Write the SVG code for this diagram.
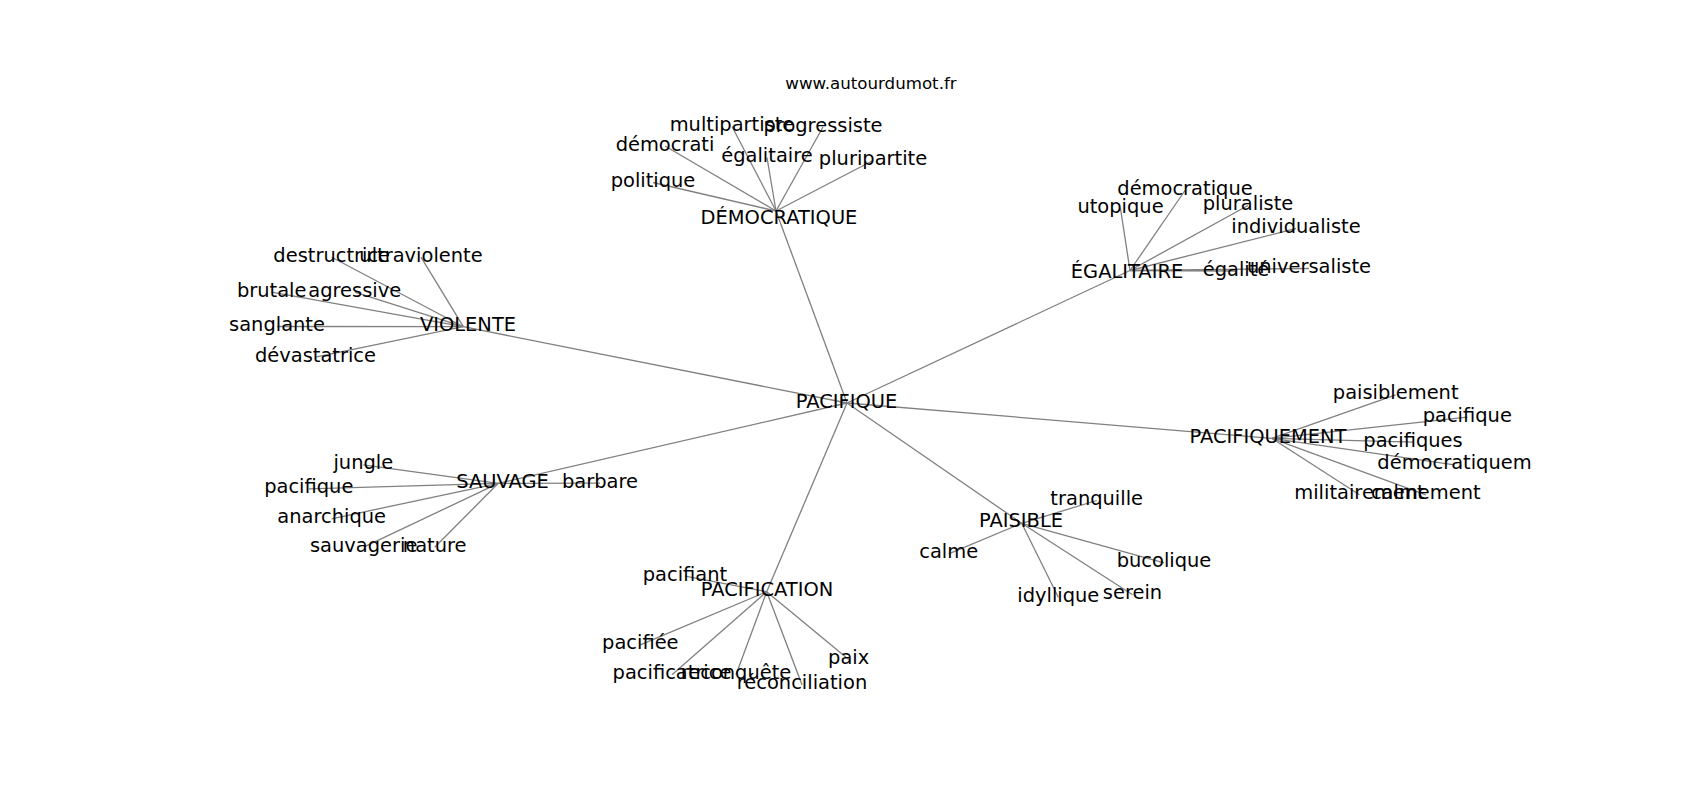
<svg xmlns="http://www.w3.org/2000/svg" width="1700" height="800" viewBox="0 0 1700 800">
<style>
.e{stroke:#808080;stroke-width:1.3;fill:none}
text{font-family:"DejaVu Sans",sans-serif;font-size:19.44px;fill:#000;text-anchor:middle}
.t{font-size:16.67px}
</style>
<rect width="1700" height="800" fill="#fff"/>
<text class="t" x="871" y="89">www.autourdumot.fr</text>
<g id="edges">
<line class="e" x1="847" y1="403" x2="776" y2="211"/>
<line class="e" x1="847" y1="403" x2="1130" y2="270.5"/>
<line class="e" x1="847" y1="403" x2="463.3" y2="326.7"/>
<line class="e" x1="847" y1="403" x2="498.3" y2="483.3"/>
<line class="e" x1="847" y1="403" x2="766.7" y2="591.7"/>
<line class="e" x1="847" y1="403" x2="1021.7" y2="523.3"/>
<line class="e" x1="847" y1="403" x2="1271.7" y2="438.3"/>
<line class="e" x1="776" y1="211" x2="732" y2="126.5"/>
<line class="e" x1="776" y1="211" x2="823" y2="127"/>
<line class="e" x1="776" y1="211" x2="665" y2="146"/>
<line class="e" x1="776" y1="211" x2="767" y2="157.5"/>
<line class="e" x1="776" y1="211" x2="873" y2="160.5"/>
<line class="e" x1="776" y1="211" x2="653" y2="182.5"/>
<line class="e" x1="1130" y1="270.5" x2="1185" y2="190.5"/>
<line class="e" x1="1130" y1="270.5" x2="1120.5" y2="208.5"/>
<line class="e" x1="1130" y1="270.5" x2="1248" y2="205.5"/>
<line class="e" x1="1130" y1="270.5" x2="1296" y2="228.5"/>
<line class="e" x1="1130" y1="270.5" x2="1236" y2="271"/>
<line class="e" x1="1130" y1="270.5" x2="1309" y2="268.5"/>
<line class="e" x1="463.3" y1="326.7" x2="331.7" y2="257.2"/>
<line class="e" x1="463.3" y1="326.7" x2="421" y2="257.2"/>
<line class="e" x1="463.3" y1="326.7" x2="271.7" y2="292.2"/>
<line class="e" x1="463.3" y1="326.7" x2="354.7" y2="292.2"/>
<line class="e" x1="463.3" y1="326.7" x2="277" y2="326.5"/>
<line class="e" x1="463.3" y1="326.7" x2="315.5" y2="357.2"/>
<line class="e" x1="498.3" y1="483.3" x2="363.3" y2="464.8"/>
<line class="e" x1="498.3" y1="483.3" x2="308.8" y2="488.8"/>
<line class="e" x1="498.3" y1="483.3" x2="600" y2="483.2"/>
<line class="e" x1="498.3" y1="483.3" x2="331.7" y2="518.8"/>
<line class="e" x1="498.3" y1="483.3" x2="363.7" y2="547.2"/>
<line class="e" x1="498.3" y1="483.3" x2="434.7" y2="547.2"/>
<line class="e" x1="766.7" y1="591.7" x2="685" y2="576.2"/>
<line class="e" x1="766.7" y1="591.7" x2="640.3" y2="644.8"/>
<line class="e" x1="766.7" y1="591.7" x2="672" y2="674.8"/>
<line class="e" x1="766.7" y1="591.7" x2="736" y2="674.8"/>
<line class="e" x1="766.7" y1="591.7" x2="802" y2="684.8"/>
<line class="e" x1="766.7" y1="591.7" x2="848.7" y2="659.5"/>
<line class="e" x1="1021.7" y1="523.3" x2="1096.7" y2="500.5"/>
<line class="e" x1="1021.7" y1="523.3" x2="948.7" y2="553.8"/>
<line class="e" x1="1021.7" y1="523.3" x2="1164" y2="562.8"/>
<line class="e" x1="1021.7" y1="523.3" x2="1058.3" y2="597.2"/>
<line class="e" x1="1021.7" y1="523.3" x2="1132.5" y2="594.8"/>
<line class="e" x1="1271.7" y1="438.3" x2="1395.7" y2="394.8"/>
<line class="e" x1="1271.7" y1="438.3" x2="1467.3" y2="417.2"/>
<line class="e" x1="1271.7" y1="438.3" x2="1413" y2="442.2"/>
<line class="e" x1="1271.7" y1="438.3" x2="1454.5" y2="464.8"/>
<line class="e" x1="1271.7" y1="438.3" x2="1359.5" y2="494.8"/>
<line class="e" x1="1271.7" y1="438.3" x2="1425.8" y2="494.8"/>
</g>
<g id="n-pacifique"><text x="846.5" y="408">PACIFIQUE</text></g>
<g id="n-democratique"><text x="779" y="224">DÉMOCRATIQUE</text></g>
<g id="n-multipartiste"><text x="732" y="131">multipartiste</text></g>
<g id="n-progressiste"><text x="823" y="131.5">progressiste</text></g>
<g id="n-democrati"><text x="665" y="150.5">démocrati</text></g>
<g id="n-egalitaire-d"><text x="767" y="162">égalitaire</text></g>
<g id="n-pluripartite"><text x="873" y="165">pluripartite</text></g>
<g id="n-politique"><text x="653" y="187">politique</text></g>
<g id="n-egalitaire"><text x="1127" y="278">ÉGALITAIRE</text></g>
<g id="n-democratique-e"><text x="1185" y="195">démocratique</text></g>
<g id="n-utopique"><text x="1120.5" y="213">utopique</text></g>
<g id="n-pluraliste"><text x="1248" y="210">pluraliste</text></g>
<g id="n-individualiste"><text x="1296" y="233">individualiste</text></g>
<g id="n-egalite"><text x="1236" y="276">égalité</text></g>
<g id="n-universaliste"><text x="1309" y="273">universaliste</text></g>
<g id="n-violente"><text x="468" y="331">VIOLENTE</text></g>
<g id="n-destructrice"><text x="331.7" y="261.7">destructrice</text></g>
<g id="n-ultraviolente"><text x="421" y="261.7">ultraviolente</text></g>
<g id="n-brutale"><text x="271.7" y="296.7">brutale</text></g>
<g id="n-agressive"><text x="354.7" y="296.7">agressive</text></g>
<g id="n-sanglante"><text x="277" y="331">sanglante</text></g>
<g id="n-devastatrice"><text x="315.5" y="361.7">dévastatrice</text></g>
<g id="n-sauvage"><text x="502.5" y="487.7">SAUVAGE</text></g>
<g id="n-jungle"><text x="363.3" y="469.3">jungle</text></g>
<g id="n-pacifique-s"><text x="308.8" y="493.3">pacifique</text></g>
<g id="n-barbare"><text x="600" y="487.7">barbare</text></g>
<g id="n-anarchique"><text x="331.7" y="523.3">anarchique</text></g>
<g id="n-sauvagerie"><text x="363.7" y="551.7">sauvagerie</text></g>
<g id="n-nature"><text x="434.7" y="551.7">nature</text></g>
<g id="n-pacification"><text x="767" y="595.7">PACIFICATION</text></g>
<g id="n-pacifiant"><text x="685" y="580.7">pacifiant</text></g>
<g id="n-pacifiee"><text x="640.3" y="649.3">pacifiée</text></g>
<g id="n-pacificatrice"><text x="672" y="679.3">pacificatrice</text></g>
<g id="n-reconquete"><text x="736" y="679.3">reconquête</text></g>
<g id="n-reconciliation"><text x="802" y="689.3">réconciliation</text></g>
<g id="n-paix"><text x="848.7" y="664">paix</text></g>
<g id="n-paisible"><text x="1021" y="526.7">PAISIBLE</text></g>
<g id="n-tranquille"><text x="1096.7" y="505">tranquille</text></g>
<g id="n-calme"><text x="948.7" y="558.3">calme</text></g>
<g id="n-bucolique"><text x="1164" y="567.3">bucolique</text></g>
<g id="n-idyllique"><text x="1058.3" y="601.7">idyllique</text></g>
<g id="n-serein"><text x="1132.5" y="599.3">serein</text></g>
<g id="n-pacifiquement"><text x="1268" y="443.3">PACIFIQUEMENT</text></g>
<g id="n-paisiblement"><text x="1395.7" y="399.3">paisiblement</text></g>
<g id="n-pacifique-p"><text x="1467.3" y="421.7">pacifique</text></g>
<g id="n-pacifiques"><text x="1413" y="446.7">pacifiques</text></g>
<g id="n-democratiquem"><text x="1454.5" y="469.3">démocratiquem</text></g>
<g id="n-militairement"><text x="1359.5" y="499.3">militairement</text></g>
<g id="n-calmement"><text x="1425.8" y="499.3">calmement</text></g>
</svg>
